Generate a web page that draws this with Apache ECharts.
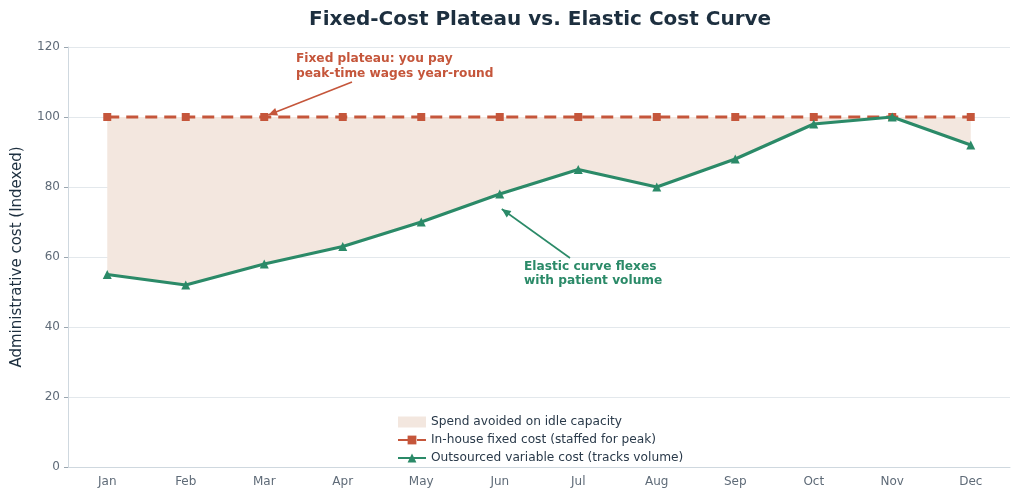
<!DOCTYPE html>
<html>
<head>
<meta charset="utf-8">
<script src="https://cdn.jsdelivr.net/npm/echarts@6/dist/echarts.min.js"></script>
<style>
  html, body { margin: 0; padding: 0; background: #fff; }
  #chart { width: 1024px; height: 498px; }
</style>
</head>
<body>
<div id="chart"></div>
<script>
const months = ['Jan', 'Feb', 'Mar', 'Apr', 'May', 'Jun', 'Jul', 'Aug', 'Sep', 'Oct', 'Nov', 'Dec'];
const fixedCost = [100, 100, 100, 100, 100, 100, 100, 100, 100, 100, 100, 100];
const variableCost = [55, 52, 58, 63, 70, 78, 85, 80, 88, 98, 100, 92];
const yTicks = [0, 20, 40, 60, 80, 100, 120];

const RED = '#c5563b';
const GREEN = '#2b8a68';
const FILL = '#f3e7df';
const FONT = 'DejaVu Sans';

// gap between the plateau and the curve, stacked on top of the curve
const gap = fixedCost.map((f, i) => f - variableCost[i]);

const chart = echarts.init(document.getElementById('chart'));
chart.setOption({
    backgroundColor: '#fff',
    animation: false,
    textStyle: { fontFamily: FONT },
    title: {
        text: 'Fixed-Cost Plateau vs. Elastic Cost Curve',
        left: 304,
        top: 5,
        textStyle: { fontFamily: FONT, fontSize: 20, fontWeight: 'bold', color: '#1d2f3f' }
    },
    grid: { left: 68, right: 14, top: 47, bottom: 31 },
    legend: {
        orient: 'vertical',
        left: 392,
        top: 411,
        itemWidth: 28,
        itemHeight: 11,
        itemGap: 6,
        textStyle: { fontFamily: FONT, fontSize: 12.2, color: '#2a3a4a' },
        data: [
            { name: 'Spend avoided on idle capacity', icon: 'rect', itemStyle: { color: FILL } },
            { name: 'In-house fixed cost (staffed for peak)' },
            { name: 'Outsourced variable cost (tracks volume)' }
        ]
    },
    xAxis: {
        type: 'category',
        data: months,
        boundaryGap: true,
        axisLine: { lineStyle: { color: '#cfd8df' } },
        axisTick: { alignWithLabel: true, length: 4, lineStyle: { color: '#9aa6b0' } },
        axisLabel: { fontFamily: FONT, fontSize: 12, color: '#5f6b78', margin: 9 }
    },
    yAxis: {
        type: 'value',
        min: 0,
        max: 120,
        interval: 20,
        name: 'Administrative cost (Indexed)',
        nameLocation: 'middle',
        nameGap: 43,
        nameTextStyle: { fontFamily: FONT, fontSize: 15, color: '#1d2f3f' },
        axisLine: { show: true, lineStyle: { color: '#cfd8df' } },
        axisTick: { show: true, length: 4, lineStyle: { color: '#9aa6b0' } },
        axisLabel: {
            fontFamily: FONT, fontSize: 12, color: '#5f6b78', margin: 8,
            formatter: v => yTicks.includes(v) ? String(v) : ''
        },
        splitLine: { lineStyle: { color: '#e3e8ec', width: 1 } }
    },
    series: [
        {
            name: 'base',
            type: 'line',
            stack: 'gap',
            data: variableCost,
            symbol: 'none',
            lineStyle: { opacity: 0 },
            silent: true,
            z: 1
        },
        {
            name: 'Spend avoided on idle capacity',
            type: 'line',
            stack: 'gap',
            data: gap,
            symbol: 'none',
            lineStyle: { opacity: 0 },
            itemStyle: { color: FILL },
            areaStyle: { color: FILL, opacity: 1 },
            silent: true,
            z: 1
        },
        {
            name: 'In-house fixed cost (staffed for peak)',
            type: 'line',
            data: fixedCost,
            symbol: 'rect',
            symbolSize: 8,
            color: RED,
            itemStyle: { color: RED },
            lineStyle: { color: RED, width: 3.2, type: [12, 7] },
            z: 3
        },
        {
            name: 'Outsourced variable cost (tracks volume)',
            type: 'line',
            data: variableCost,
            symbol: 'triangle',
            symbolSize: 9,
            color: GREEN,
            itemStyle: { color: GREEN },
            lineStyle: { color: GREEN, width: 3.2 },
            z: 4
        }
    ]
});

// annotations placed from data coordinates
function px(i, v) { return chart.convertToPixel({ gridIndex: 0 }, [i, v]); }
const redTip = px(2, 100);
const greenTip = px(5, variableCost[5]);
chart.setOption({
    graphic: [
        {
            type: 'text', left: 296, top: 51,
            style: {
                text: 'Fixed plateau: you pay\npeak-time wages year-round',
                font: 'bold 12.2px "DejaVu Sans"', fill: RED, lineHeight: 15
            }
        },
        {
            type: 'line',
            shape: { x1: 352, y1: 82, x2: redTip[0] + 4, y2: redTip[1] - 2 },
            style: { stroke: RED, lineWidth: 1.6 }
        },
        {
            type: 'polygon',
            shape: { points: arrowHead(352, 82, redTip[0] + 4, redTip[1] - 2) },
            style: { fill: RED }
        },
        {
            type: 'text', left: 524, top: 260,
            style: {
                text: 'Elastic curve flexes\nwith patient volume',
                font: 'bold 12.2px "DejaVu Sans"', fill: GREEN, lineHeight: 14
            }
        },
        {
            type: 'line',
            shape: { x1: 570, y1: 258, x2: greenTip[0] + 2, y2: greenTip[1] + 15 },
            style: { stroke: GREEN, lineWidth: 1.6 }
        },
        {
            type: 'polygon',
            shape: { points: arrowHead(570, 258, greenTip[0] + 2, greenTip[1] + 15) },
            style: { fill: GREEN }
        }
    ]
});

function arrowHead(x1, y1, x2, y2) {
    const a = Math.atan2(y2 - y1, x2 - x1);
    const L = 9, W = 4;
    const bx = x2 - L * Math.cos(a), by = y2 - L * Math.sin(a);
    return [
        [x2, y2],
        [bx + W * Math.sin(a), by - W * Math.cos(a)],
        [bx - W * Math.sin(a), by + W * Math.cos(a)]
    ];
}
</script>
</body>
</html>
